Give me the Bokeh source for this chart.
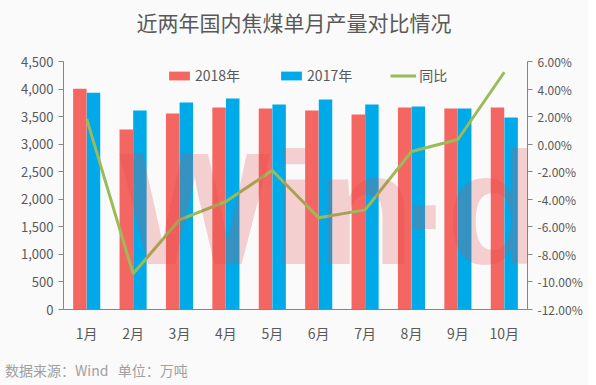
from bokeh.plotting import figure
from bokeh.layouts import column
from bokeh.models import (FactorRange, Range1d, LinearAxis, NumeralTickFormatter,
                          FixedTicker, Legend, LegendItem, ColumnDataSource, Label, Div)
from bokeh.transform import dodge
from bokeh.embed import file_html
from bokeh.resources import INLINE

months = ["1月", "2月", "3月", "4月", "5月", "6月", "7月", "8月", "9月", "10月"]
output_2018 = [4005, 3267, 3557, 3666, 3648, 3611, 3539, 3666, 3648, 3666]
output_2017 = [3932, 3611, 3757, 3829, 3720, 3811, 3720, 3684, 3648, 3485]
yoy = [0.0184, -0.0941, -0.0549, -0.0416, -0.0191, -0.0534, -0.0477, -0.0053, 0.0034, 0.0522]
left_ticks = [0, 500, 1000, 1500, 2000, 2500, 3000, 3500, 4000, 4500]
right_ticks = [-0.12, -0.10, -0.08, -0.06, -0.04, -0.02, 0.0, 0.02, 0.04, 0.06]

FONT = "Noto Sans CJK SC"
TXT = "#595959"
AX = "#868686"
BG = "#FAFAFA"
W = 588

src = ColumnDataSource(dict(m=months, a=output_2018, b=output_2017, r=yoy))

p = figure(frame_width=464, frame_height=248, output_backend="svg", toolbar_location=None,
           x_range=FactorRange(*months, range_padding=0),
           y_range=Range1d(0, 4500),
           min_border_left=63, min_border_right=61, min_border_top=17, min_border_bottom=46,
           background_fill_color=BG, border_fill_color=BG, outline_line_color=None)
p.extra_y_ranges = {"pct": Range1d(-0.12, 0.06)}

r1 = p.vbar(x=dodge("m", -0.147, range=p.x_range), top="a", width=0.29, source=src,
            fill_color="#F46662", line_color=None)
r2 = p.vbar(x=dodge("m", 0.147, range=p.x_range), top="b", width=0.29, source=src,
            fill_color="#00AAE8", line_color=None)
r3 = p.line(x="m", y="r", source=src, y_range_name="pct", line_color="#9BBB59", line_width=3)

# watermark (decoration)
wm = [("W", 1.2), ("i", 4.5), ("n", 5.45), (".", 7.3), ("d", 8.25)]
for ch, xx in wm:
    p.add_layout(Label(x=xx, y=3450, text=ch, text_font="Liberation Sans", text_font_style="bold",
                       text_font_size="160px", text_color="#E04848", text_alpha=0.24,
                       text_baseline="top"))

p.xgrid.visible = False
p.ygrid.visible = False

for ax in [p.xaxis[0], p.yaxis[0]]:
    ax.axis_line_color = AX
    ax.major_tick_line_color = AX
    ax.minor_tick_line_color = None
    ax.major_label_text_color = TXT
    ax.major_label_text_font = FONT
    ax.major_label_text_font_size = "13px"

p.xaxis.major_tick_line_color = None
p.xaxis.major_label_text_font_size = "14px"
p.xaxis.major_label_standoff = 7
p.yaxis[0].ticker = FixedTicker(ticks=left_ticks)
p.yaxis[0].formatter = NumeralTickFormatter(format="0,0")
p.yaxis[0].major_tick_out = 5
p.yaxis[0].major_tick_in = 0

ra = LinearAxis(y_range_name="pct", ticker=FixedTicker(ticks=right_ticks),
                formatter=NumeralTickFormatter(format="0.00%"))
ra.axis_line_color = AX
ra.major_tick_line_color = AX
ra.minor_tick_line_color = None
ra.major_tick_out = 5
ra.major_tick_in = 0
ra.major_label_text_color = TXT
ra.major_label_text_font = FONT
ra.major_label_text_font_size = "12px"
p.add_layout(ra, "right")

legend = Legend(items=[LegendItem(label="2018年", renderers=[r1]),
                       LegendItem(label="2017年", renderers=[r2]),
                       LegendItem(label="同比", renderers=[r3])],
                orientation="horizontal", location=(103, 224),
                background_fill_alpha=0, border_line_color=None,
                glyph_width=26, glyph_height=11, label_standoff=3, spacing=38,
                padding=0, margin=0,
                label_text_font=FONT, label_text_font_size="14px", label_text_color=TXT)
p.add_layout(legend, "center")

title_div = Div(text=('<div style="width:%dpx;height:44px;line-height:44px;text-align:center;'
                      'font-family:\'Noto Sans CJK SC\';font-size:21px;color:%s;'
                      'background:%s;">近两年国内焦煤单月产量对比情况</div>') % (W, TXT, BG),
                width=W, height=44, margin=0)
foot_div = Div(text=('<div style="width:%dpx;height:30px;line-height:30px;padding-left:5px;'
                     'box-sizing:border-box;font-family:\'Noto Sans CJK SC\';font-size:14px;'
                     'color:#A0A0A0;background:%s;">数据来源：Wind&nbsp;&nbsp;&nbsp;单位：万吨</div>') % (W, BG),
               width=W, height=30, margin=0)

layout = column(title_div, p, foot_div, spacing=0)
layout.styles = {"background-color": BG}

open("out.html", "w").write(file_html(layout, INLINE))
